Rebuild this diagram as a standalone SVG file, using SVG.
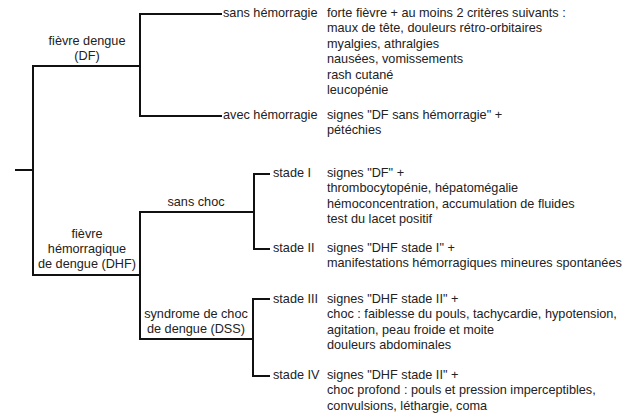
<svg xmlns="http://www.w3.org/2000/svg" width="638" height="416" viewBox="0 0 638 416">
<style>
text{font-family:"Liberation Sans",Arial,sans-serif;font-size:12.7px;fill:#222}
.c{text-anchor:middle}
.ln{stroke:#111;stroke-width:2;fill:none;stroke-linecap:square;stroke-linejoin:miter}
</style>
<rect width="638" height="416" fill="#fff"/>
<g id="connectors" class="ln">
<path d="M16,170H33"/>
<path d="M140,66H33V275H140"/>
<path d="M221,14H140V116H221"/>
<path d="M269,174H254V249H269"/>
<path d="M140,212H254"/>
<path d="M269,299H253V376H269"/>
<path d="M140,212V339H253"/>
</g>
<g id="df">
<text class="c" x="87" y="45">fièvre dengue</text>
<text class="c" x="87" y="60">(DF)</text>
</g>
<g id="df-sans">
<text x="223" y="17">sans hémorragie</text>
<text x="327" y="17">forte fièvre + au moins 2 critères suivants :</text>
<text x="327" y="32.4">maux de tête, douleurs rétro-orbitaires</text>
<text x="327" y="47.8">myalgies, athralgies</text>
<text x="327" y="63.2">nausées, vomissements</text>
<text x="327" y="78.6">rash cutané</text>
<text x="327" y="94">leucopénie</text>
</g>
<g id="df-avec">
<text x="223" y="119">avec hémorragie</text>
<text x="327" y="119">signes "DF sans hémorragie" +</text>
<text x="327" y="134.4">pétéchies</text>
</g>
<g id="dhf">
<text class="c" x="87" y="238">fièvre</text>
<text class="c" x="87" y="253">hémorragique</text>
<text class="c" x="87" y="268">de dengue (DHF)</text>
</g>
<g id="sans-choc">
<text class="c" x="196" y="206">sans choc</text>
</g>
<g id="stade1">
<text x="273" y="177">stade I</text>
<text x="327" y="177">signes "DF" +</text>
<text x="327" y="192.4">thrombocytopénie, hépatomégalie</text>
<text x="327" y="207.8">hémoconcentration, accumulation de fluides</text>
<text x="327" y="223.2">test du lacet positif</text>
</g>
<g id="stade2">
<text x="273" y="252">stade II</text>
<text x="327" y="252">signes "DHF stade I" +</text>
<text x="327" y="267.4">manifestations hémorragiques mineures spontanées</text>
</g>
<g id="dss">
<text class="c" x="196" y="318">syndrome de choc</text>
<text class="c" x="196" y="333">de dengue (DSS)</text>
</g>
<g id="stade3">
<text x="273" y="303">stade III</text>
<text x="327" y="303">signes "DHF stade II" +</text>
<text x="327" y="318.4">choc : faiblesse du pouls, tachycardie, hypotension,</text>
<text x="327" y="333.8">agitation, peau froide et moite</text>
<text x="327" y="349.2">douleurs abdominales</text>
</g>
<g id="stade4">
<text x="273" y="379">stade IV</text>
<text x="327" y="379">signes "DHF stade II" +</text>
<text x="327" y="394.4">choc profond : pouls et pression imperceptibles,</text>
<text x="327" y="409.8">convulsions, léthargie, coma</text>
</g>
</svg>
